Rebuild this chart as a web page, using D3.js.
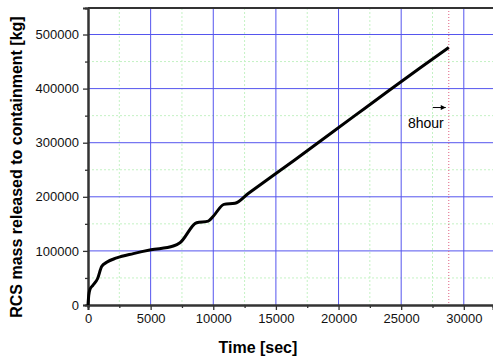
<!DOCTYPE html>
<html>
<head>
<meta charset="utf-8">
<script src="https://cdn.jsdelivr.net/npm/d3@7"></script>
<style>
body { margin: 0; background: #fff; }
svg { display: block; font-family: "Liberation Sans", Arial, sans-serif; }
</style>
</head>
<body>
<div id="chart"></div>
<script>
// Data
const timeSec = [0, 60, 160, 375, 770, 1090, 1490, 2290, 3620, 5030, 6810, 7340, 8670, 9600, 10000, 10850, 11730, 12790, 16500, 21300, 24000, 26500, 28800];
const massKg = [0, 18000, 29000, 36000, 49000, 71000, 79000, 87000, 95000, 102000, 109000, 115000, 152000, 155000, 164000, 186000, 188000, 206000, 268000, 350000, 396000, 438000, 476000];
const xTicks = [0, 5000, 10000, 15000, 20000, 25000, 30000];
const yTicks = [0, 100000, 200000, 300000, 400000, 500000];
const markTime = 28800;

const margin = {top: 8, right: 0, bottom: 57, left: 88},
    width = 493 - margin.left - margin.right,
    height = 362 - margin.top - margin.bottom;

const x = d3.scaleLinear().domain([0, 32330]).range([0, width]);
const y = d3.scaleLinear().domain([0, 549000]).range([height, 0]);

const svg = d3.select("#chart").append("svg")
    .attr("width", 493)
    .attr("height", 362)
    .append("g")
    .attr("transform", "translate(" + margin.left + "," + margin.top + ")");

// Minor grid (green dashed)
const xMinor = d3.range(2500, 32330, 5000);
const yMinor = d3.range(50000, 549000, 100000);
svg.append("g").selectAll("line").data(xMinor).enter().append("line")
    .attr("x1", d => x(d)).attr("x2", d => x(d))
    .attr("y1", 0).attr("y2", height)
    .attr("stroke", "#c4f2c4").attr("stroke-dasharray", "2,2");
svg.append("g").selectAll("line").data(yMinor).enter().append("line")
    .attr("x1", 0).attr("x2", width)
    .attr("y1", d => y(d)).attr("y2", d => y(d))
    .attr("stroke", "#c4f2c4").attr("stroke-dasharray", "2,2");

// Major grid (blue)
svg.append("g").selectAll("line").data(xTicks.slice(1)).enter().append("line")
    .attr("x1", d => x(d)).attr("x2", d => x(d))
    .attr("y1", 0).attr("y2", height)
    .attr("stroke", "#5555ee").attr("stroke-width", 1);
svg.append("g").selectAll("line").data(yTicks.slice(1)).enter().append("line")
    .attr("x1", 0).attr("x2", width)
    .attr("y1", d => y(d)).attr("y2", d => y(d))
    .attr("stroke", "#5555ee").attr("stroke-width", 1);

// 8 hour marker
svg.append("line")
    .attr("x1", x(markTime)).attr("x2", x(markTime))
    .attr("y1", 0).attr("y2", height)
    .attr("stroke", "#e06080").attr("stroke-dasharray", "1,2");

// Top border
svg.append("line")
    .attr("x1", 0).attr("x2", width)
    .attr("y1", 0).attr("y2", 0)
    .attr("stroke", "#333").attr("stroke-width", 2);

// Axes
const xAxis = svg.append("g")
    .attr("transform", "translate(0," + height + ")")
    .call(d3.axisBottom(x).tickValues(xTicks).tickSize(5).tickPadding(4).tickFormat(d3.format("d")));
const xMinorAxis = svg.append("g")
    .attr("transform", "translate(0," + height + ")")
    .call(d3.axisBottom(x).tickValues(xMinor).tickSize(3).tickFormat(""));
const yAxis = svg.append("g")
    .call(d3.axisLeft(y).tickValues(yTicks).tickSize(5).tickPadding(4).tickFormat(d3.format("d")));
const yMinorAxis = svg.append("g")
    .call(d3.axisLeft(y).tickValues(yMinor).tickSize(3).tickFormat(""));

[xAxis, yAxis, xMinorAxis, yMinorAxis].forEach(g => {
    g.select(".domain").attr("stroke", "#333").attr("stroke-width", 2);
    g.selectAll(".tick line").attr("stroke", "#333").attr("stroke-width", 1.3);
    g.selectAll("text").attr("font-size", 13).attr("fill", "#111")
        .attr("font-family", "'Liberation Sans', Arial, sans-serif");
});

// Line
const line = d3.line()
    .x((d, i) => x(timeSec[i]))
    .y(d => y(d))
    .curve(d3.curveMonotoneX);
svg.append("path")
    .datum(massKg)
    .attr("fill", "none")
    .attr("stroke", "#000")
    .attr("stroke-width", 3)
    .attr("stroke-linejoin", "round")
    .attr("d", line);

// Arrow + label
svg.append("defs").append("marker")
    .attr("id", "arr").attr("viewBox", "0 0 10 10")
    .attr("refX", 10).attr("refY", 5)
    .attr("markerWidth", 6).attr("markerHeight", 5)
    .attr("orient", "auto")
    .append("path").attr("d", "M0,0 L10,5 L0,10 Z").attr("fill", "#000");
svg.append("line")
    .attr("x1", x(markTime) - 16).attr("x2", x(markTime) - 3)
    .attr("y1", y(365000)).attr("y2", y(365000))
    .attr("stroke", "#000").attr("stroke-width", 1)
    .attr("marker-end", "url(#arr)");
svg.append("text")
    .attr("x", x(markTime) - 5).attr("y", y(328000))
    .attr("text-anchor", "end")
    .attr("font-size", 14)
    .text("8hour");

// Axis titles
svg.append("text")
    .attr("x", x(15000) - 18).attr("y", height + 48)
    .attr("text-anchor", "middle")
    .attr("font-size", 16).attr("font-weight", "bold")
    .text("Time [sec]");
svg.append("text")
    .attr("transform", "translate(" + (-66) + "," + (y(255000)) + ") rotate(-90)")
    .attr("text-anchor", "middle")
    .attr("font-size", 16).attr("font-weight", "bold")
    .text("RCS mass released to containment [kg]");
</script>
</body>
</html>
